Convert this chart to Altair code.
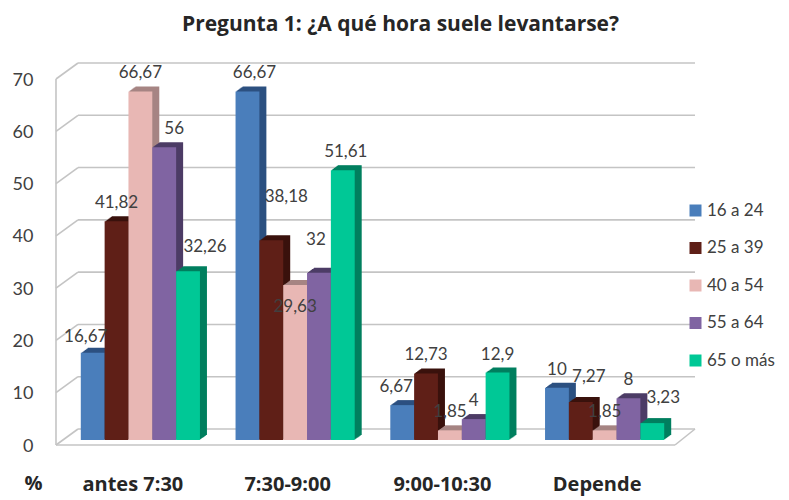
import altair as alt
import pandas as pd

CATEGORIES = ["antes 7:30", "7:30-9:00", "9:00-10:30", "Depende"]
SERIES = ["16 a 24", "25 a 39", "40 a 54", "55 a 64", "65 o más"]
V_16_24 = [16.67, 66.67, 6.67, 10]
V_25_39 = [41.82, 38.18, 12.73, 7.27]
V_40_54 = [66.67, 29.63, 1.85, 1.85]
V_55_64 = [56, 32, 4, 8]
V_65 = [32.26, 51.61, 12.9, 3.23]
VALUES = [V_16_24, V_25_39, V_40_54, V_55_64, V_65]
TICKS = [0, 10, 20, 30, 40, 50, 60, 70]
FRONT = ["#4A7EBB", "#5F1F17", "#E8B7B4", "#8064A2", "#00C896"]
SIDE = ["#2C5080", "#3A120D", "#A68583", "#4D3C66", "#007F5F"]
FONT = "Lato"
BOLD_FONT = "Open Sans"
INK = "#404040"
GRID = "#C4C4C4"

OUTER = 0.115
BAR = 0.77 / len(SERIES)

rows = []
for i, (s, vals) in enumerate(zip(SERIES, VALUES)):
    for c, (cat, v) in enumerate(zip(CATEGORIES, vals)):
        left = c + OUTER + i * BAR
        rows.append({"cat": cat, "ser": s, "v": v, "lab": f"{v:g}".replace(".", ","),
                     "key": f"{cat}|{s}", "x0": left, "x1": left + BAR, "xm": left + BAR / 2})
df = pd.DataFrame(rows)
ticks = pd.DataFrame({"v": TICKS})

# hand-moved data labels (dx, dy relative to the default spot)
MOVED = {
    "antes 7:30|16 a 24": (-7, 2),
    "antes 7:30|55 a 64": (10, 0),
    "antes 7:30|65 o más": (17, -6),
    "7:30-9:00|16 a 24": (7, 0),
    "7:30-9:00|25 a 39": (15, -25),
    "7:30-9:00|40 a 54": (0, 40),
    "7:30-9:00|55 a 64": (-3, -15),
    "7:30-9:00|65 o más": (3, 0),
    "9:00-10:30|16 a 24": (-6, 0),
    "Depende|25 a 39": (8, -7),
    "Depende|65 o más": (11, -7),
}

W, H = 619, 366
yscale = alt.Scale(domain=[0, 70], nice=False, zero=True, padding=0)
xscale = alt.Scale(domain=[0, len(CATEGORIES)], nice=False, zero=True, padding=0)
cscale = alt.Scale(domain=SERIES, range=FRONT)

label_expr = "{" + ",".join(f"'{i + 0.5}':'{c}'" for i, c in enumerate(CATEGORIES)) + "}[datum.value]"
axis_x = alt.Axis(title=None, domain=False, ticks=False, labelAngle=0, labelFont=BOLD_FONT, labelFontSize=20,
                  labelFontWeight="bold", labelColor="#262626", labelPadding=34, labelOffset=-8, grid=False,
                  values=[i + 0.5 for i in range(len(CATEGORIES))], labelExpr=label_expr, labelOverlap=False)
axis_y = alt.Axis(title="%", titleAngle=0, titleX=-30, titleY=53 + H, titleFont=BOLD_FONT, titleFontSize=20,
                  titleFontWeight="bold", titleColor="#262626", domain=False, ticks=False, grid=False,
                  values=TICKS, labelFont=FONT, labelFontSize=18, labelColor=INK, labelPadding=30, labelOffset=6)

X0 = alt.X("x0:Q", scale=xscale, axis=axis_x)
XM = alt.X("xm:Q", scale=xscale, axis=axis_x)
Y = alt.Y("v:Q", scale=yscale, axis=axis_y)

layers = []
rule = dict(color=GRID, strokeWidth=1.6)

# back wall gridlines and left side wall diagonals
layers.append(alt.Chart(ticks).mark_rule(yOffset=-11, y2Offset=-11, **rule)
              .encode(y=Y, y2="v:Q", x=alt.value(15), x2=alt.value(632)))
layers.append(alt.Chart(ticks).mark_rule(yOffset=5, y2Offset=-11, **rule)
              .encode(y=Y, y2="v:Q", x=alt.value(-7), x2=alt.value(15)))
# left front vertical, front floor edge, right floor diagonal
layers.append(alt.Chart(pd.DataFrame({"v": [0], "v2": [70]})).mark_rule(yOffset=5, y2Offset=5, **rule)
              .encode(y=Y, y2="v2:Q", x=alt.value(-7)))
zero = pd.DataFrame({"v": [0]})
layers.append(alt.Chart(zero).mark_rule(yOffset=5, y2Offset=5, **rule)
              .encode(y=Y, y2="v:Q", x=alt.value(-7), x2=alt.value(612)))
layers.append(alt.Chart(zero).mark_rule(yOffset=5, y2Offset=-11, **rule)
              .encode(y=Y, y2="v:Q", x=alt.value(612), x2=alt.value(632)))

# bars: depth staircase then front face, series by series
DEPTH = 7
for i, s in enumerate(SERIES):
    base = alt.Chart(df).transform_filter(alt.datum.ser == s)
    for k in range(DEPTH, 0, -1):
        dy = -k * 5 / DEPTH
        layers.append(base.mark_bar(color=SIDE[i], xOffset=k, x2Offset=k, yOffset=dy, y2Offset=dy)
                      .encode(x=X0, x2="x1:Q", y=Y, y2=alt.datum(0)))
    layers.append(base.mark_bar().encode(
        x=X0, x2="x1:Q", y=Y, y2=alt.datum(0),
        color=alt.Color("ser:N", scale=cscale, title=None, legend=alt.Legend(
            orient="none", legendX=624, legendY=128, symbolType="square", symbolSize=144,
            symbolStrokeWidth=0, symbolOpacity=1, labelFont=FONT, labelFontSize=17, labelColor=INK,
            rowPadding=19.5, labelOffset=3))))

# data labels
def label(data, dx=0, dy=-18):
    return data.mark_text(font=FONT, fontSize=17, color=INK, baseline="middle", dx=dx, dy=dy).encode(
        x=XM, y=Y, text="lab:N")

moved_keys = list(MOVED)
layers.append(label(alt.Chart(df).transform_filter({"not": {"field": "key", "oneOf": moved_keys}})))
for key, (dx, dy) in MOVED.items():
    layers.append(label(alt.Chart(df).transform_filter(alt.datum.key == key), dx, -18 + dy))

chart = alt.layer(*layers).properties(
    width=W, height=H,
    title=alt.TitleParams("Pregunta 1: ¿A qué hora suele levantarse?", font=BOLD_FONT, fontSize=21, fontWeight="bold",
                          color="#262626", anchor="middle", dx=28, offset=27),
    autosize=alt.AutoSizeParams(type="none"),
    padding={"left": 55, "top": 66, "right": 99, "bottom": 57},
).configure_view(stroke=None)

chart.save("out.html", embed_options={"renderer": "svg", "actions": False})
